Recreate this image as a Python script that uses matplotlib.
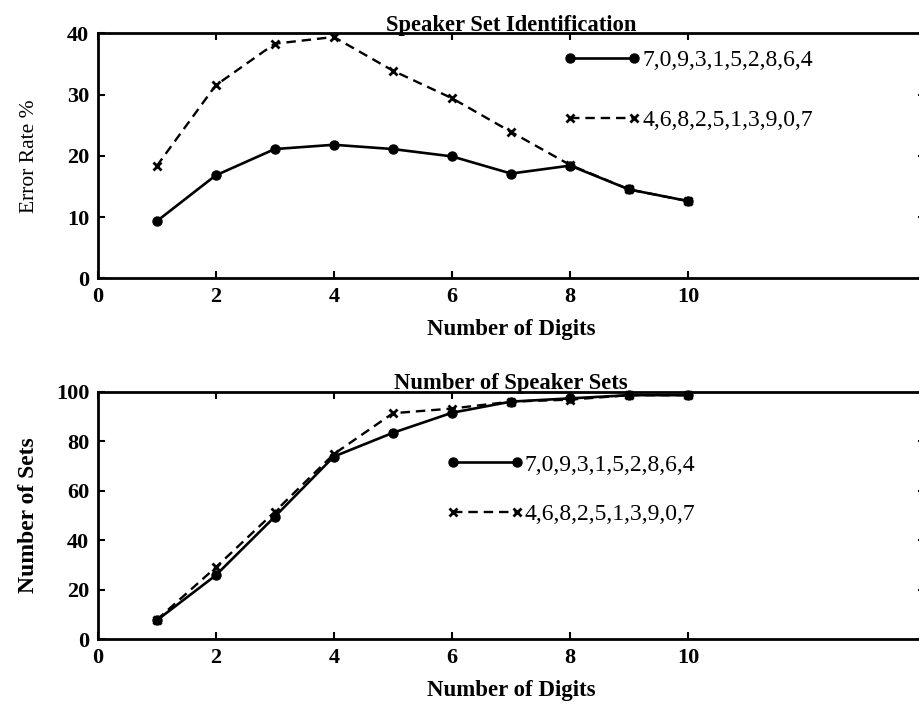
import matplotlib
matplotlib.use('Agg')
import matplotlib.pyplot as plt

# digits used (x axis)
digits = [1, 2, 3, 4, 5, 6, 7, 8, 9, 10]

# legend labels (digit orderings)
order_a = '7,0,9,3,1,5,2,8,6,4'
order_b = '4,6,8,2,5,1,3,9,0,7'

# Speaker set identification error rate (%)
err_a = [9.3, 16.8, 21.1, 21.8, 21.1, 19.9, 17.1, 18.4, 14.5, 12.6]
err_b = [18.3, 31.5, 38.3, 39.4, 33.9, 29.4, 23.9, 18.5, 14.5, 12.6]

# Number of speaker sets
sets_a = [7.6, 25.8, 49.5, 73.8, 83.4, 91.5, 96.0, 97.3, 98.6, 98.6]
sets_b = [7.8, 29.0, 51.5, 74.8, 91.3, 93.2, 96.0, 96.8, 98.6, 98.6]

plt.rcParams['font.family'] = ['Liberation Serif', 'DejaVu Serif']
plt.rcParams['font.weight'] = 'bold'

fig = plt.figure(figsize=(9.2, 7.04), dpi=100)
ax1 = fig.add_axes([0.106, 0.6047, 0.899, 0.348])
ax2 = fig.add_axes([0.106, 0.0919, 0.899, 0.3517])


def style_axes(ax, ymax, ystep):
    ax.set_xlim(0, 14)
    ax.set_ylim(0, ymax)
    ax.set_xticks([0, 2, 4, 6, 8, 10])
    ax.set_yticks(range(0, ymax + 1, ystep))
    ax.tick_params(direction='in', top=True, right=True, length=5, width=1.5,
                   labelsize=16, pad=6)
    for lbl in ax.get_xticklabels() + ax.get_yticklabels():
        lbl.set_fontweight('bold')
    for s in ax.spines.values():
        s.set_linewidth(2)


def draw_pair(ax, ya, yb):
    ax.plot(digits, ya, color='black', lw=1.9, marker='o', ms=6.5,
            label=order_a, clip_on=False)
    ax.plot(digits, yb, color='black', lw=1.7, ls=(0, (4, 2.5)), marker='x',
            ms=5.5, mew=2, label=order_b, clip_on=False)


legend_kw = dict(loc='upper left', frameon=False, numpoints=2,
                 handlelength=3.3, handletextpad=0.05, borderpad=0,
                 borderaxespad=0, prop={'size': 17, 'weight': 'normal'})

draw_pair(ax1, err_a, err_b)
style_axes(ax1, 40, 10)
ax1.set_title('Speaker Set Identification', fontsize=16.3, fontweight='bold', pad=2)
ax1.set_xlabel('Number of Digits', fontsize=16.5, fontweight='bold', labelpad=9)
ax1.set_ylabel('Error Rate %', fontsize=15.5, fontweight='normal', labelpad=20)
ax1.legend(bbox_to_anchor=(0.563, 0.933), labelspacing=1.62, **legend_kw)

draw_pair(ax2, sets_a, sets_b)
style_axes(ax2, 100, 20)
ax2.set_title('Number of Speaker Sets', fontsize=16.3, fontweight='bold', pad=2)
ax2.set_xlabel('Number of Digits', fontsize=16.5, fontweight='bold', labelpad=9)
ax2.set_ylabel('Number of Sets', fontsize=17, fontweight='bold', labelpad=12)
ax2.legend(bbox_to_anchor=(0.421, 0.748), labelspacing=1.2, **legend_kw)

fig.savefig('out.png', dpi=100)
